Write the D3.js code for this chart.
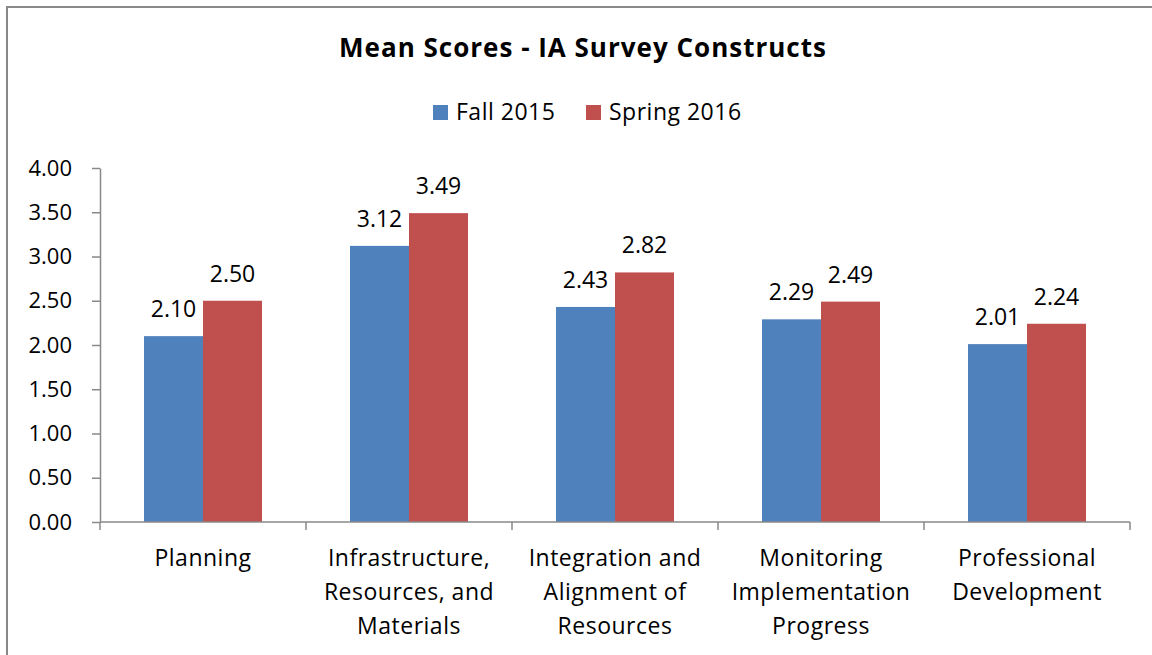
<!DOCTYPE html>
<html>
<head>
<meta charset="utf-8">
<script src="https://cdn.jsdelivr.net/npm/d3@7"></script>
<style>
  body { margin: 0; background: #fff; }
  svg { display: block; font-family: "Open Sans", sans-serif; }
</style>
</head>
<body>
<div id="chart"></div>
<script>
// Data
const categories = [
  ["Planning"],
  ["Infrastructure,", "Resources, and", "Materials"],
  ["Integration and", "Alignment of", "Resources"],
  ["Monitoring", "Implementation", "Progress"],
  ["Professional", "Development"]
];
const seriesNames = ["Fall 2015", "Spring 2016"];
const fall2015 = [2.10, 3.12, 2.43, 2.29, 2.01];
const spring2016 = [2.50, 3.49, 2.82, 2.49, 2.24];
const yTicks = [0, 0.5, 1, 1.5, 2, 2.5, 3, 3.5, 4];

const colors = ["#4F81BD", "#C0504D"];
const axisColor = "#898989";
const fontSize = 23;
const width = 1152, height = 655;
const margin = { top: 168, left: 100, right: 22, bottom: 133 };
const innerWidth = width - margin.left - margin.right;
const innerHeight = height - margin.top - margin.bottom;

const svg = d3.select("#chart")
  .append("svg")
    .attr("width", width)
    .attr("height", height);

// Outer border: only the left and top edges are inside the picture
svg.append("line")
  .attr("x1", 7).attr("y1", 6).attr("x2", 7).attr("y2", height)
  .attr("stroke", axisColor).attr("stroke-width", 2);
svg.append("line")
  .attr("x1", 6).attr("y1", 7).attr("x2", width).attr("y2", 7)
  .attr("stroke", axisColor).attr("stroke-width", 2);

// Title
svg.append("text")
  .attr("x", 583)
  .attr("y", 57)
  .attr("text-anchor", "middle")
  .attr("font-size", 26)
  .attr("font-weight", "bold")
  .attr("letter-spacing", 1)
  .text("Mean Scores - IA Survey Constructs");

// Legend
const legendX = [433, 586];
seriesNames.forEach((name, i) => {
  svg.append("rect")
    .attr("x", legendX[i]).attr("y", 105)
    .attr("width", 15).attr("height", 15)
    .attr("fill", colors[i]);
  svg.append("text")
    .attr("x", legendX[i] + 23).attr("y", 120)
    .attr("font-size", fontSize)
    .attr("letter-spacing", 0.5)
    .text(name);
});

const inner = svg.append("g")
  .attr("transform", `translate(${margin.left}, ${margin.top})`);

// Scales
const x0 = d3.scaleBand()
  .domain(d3.range(categories.length))
  .range([0, innerWidth]);
const x1 = d3.scaleBand()
  .domain([0, 1])
  .range([44, x0.bandwidth() - 44]);
const y = d3.scaleLinear()
  .domain([0, 4])
  .range([innerHeight, 0]);

// Y axis
const yAxis = inner.append("g")
  .call(d3.axisLeft(y).tickValues(yTicks).tickFormat(d3.format(".2f")).tickSize(8).tickSizeOuter(0).tickPadding(20));
yAxis.select(".domain").attr("stroke", axisColor).attr("stroke-width", 1.5);
yAxis.selectAll(".tick line").attr("stroke", axisColor).attr("stroke-width", 1.5);
yAxis.selectAll(".tick text").attr("font-size", 22).attr("fill", "#000")
  .attr("font-family", "'Open Sans', sans-serif");

// Bars
const values = [fall2015, spring2016];
const barData = [];
categories.forEach((c, i) => values.forEach((s, k) => barData.push({ i, k, v: s[i] })));
const barX = d => x0(d.i) + x1(d.k);

inner.selectAll("rect.bar")
  .data(barData)
  .join("rect")
    .attr("class", "bar")
    .attr("x", barX)
    .attr("y", d => y(d.v))
    .attr("width", x1.bandwidth())
    .attr("height", d => innerHeight - y(d.v))
    .attr("fill", d => colors[d.k]);

inner.selectAll("text.val")
  .data(barData)
  .join("text")
    .attr("class", "val")
    .attr("x", d => barX(d) + x1.bandwidth() / 2)
    .attr("y", d => y(d.v) - 19)
    .attr("text-anchor", "middle")
    .attr("font-size", fontSize)
    .text(d => d.v.toFixed(2));

// X axis
const xAxis = inner.append("g")
  .attr("transform", `translate(0, ${innerHeight})`);
xAxis.append("line")
  .attr("x1", 0).attr("x2", innerWidth)
  .attr("stroke", axisColor).attr("stroke-width", 1.5);
xAxis.selectAll("line.tick")
  .data(d3.range(categories.length + 1))
  .join("line")
    .attr("class", "tick")
    .attr("x1", i => i * x0.bandwidth())
    .attr("x2", i => i * x0.bandwidth())
    .attr("y1", 0).attr("y2", 8)
    .attr("stroke", axisColor).attr("stroke-width", 1.5);

const labelLines = [];
categories.forEach((c, i) => c.forEach((t, j) => labelLines.push({ i, j, t })));
xAxis.selectAll("text.cat")
  .data(labelLines)
  .join("text")
    .attr("class", "cat")
    .attr("x", d => x0(d.i) + x0.bandwidth() / 2)
    .attr("y", d => 44 + d.j * 34)
    .attr("text-anchor", "middle")
    .attr("font-size", fontSize)
    .attr("letter-spacing", 0.5)
    .text(d => d.t);
</script>
</body>
</html>
